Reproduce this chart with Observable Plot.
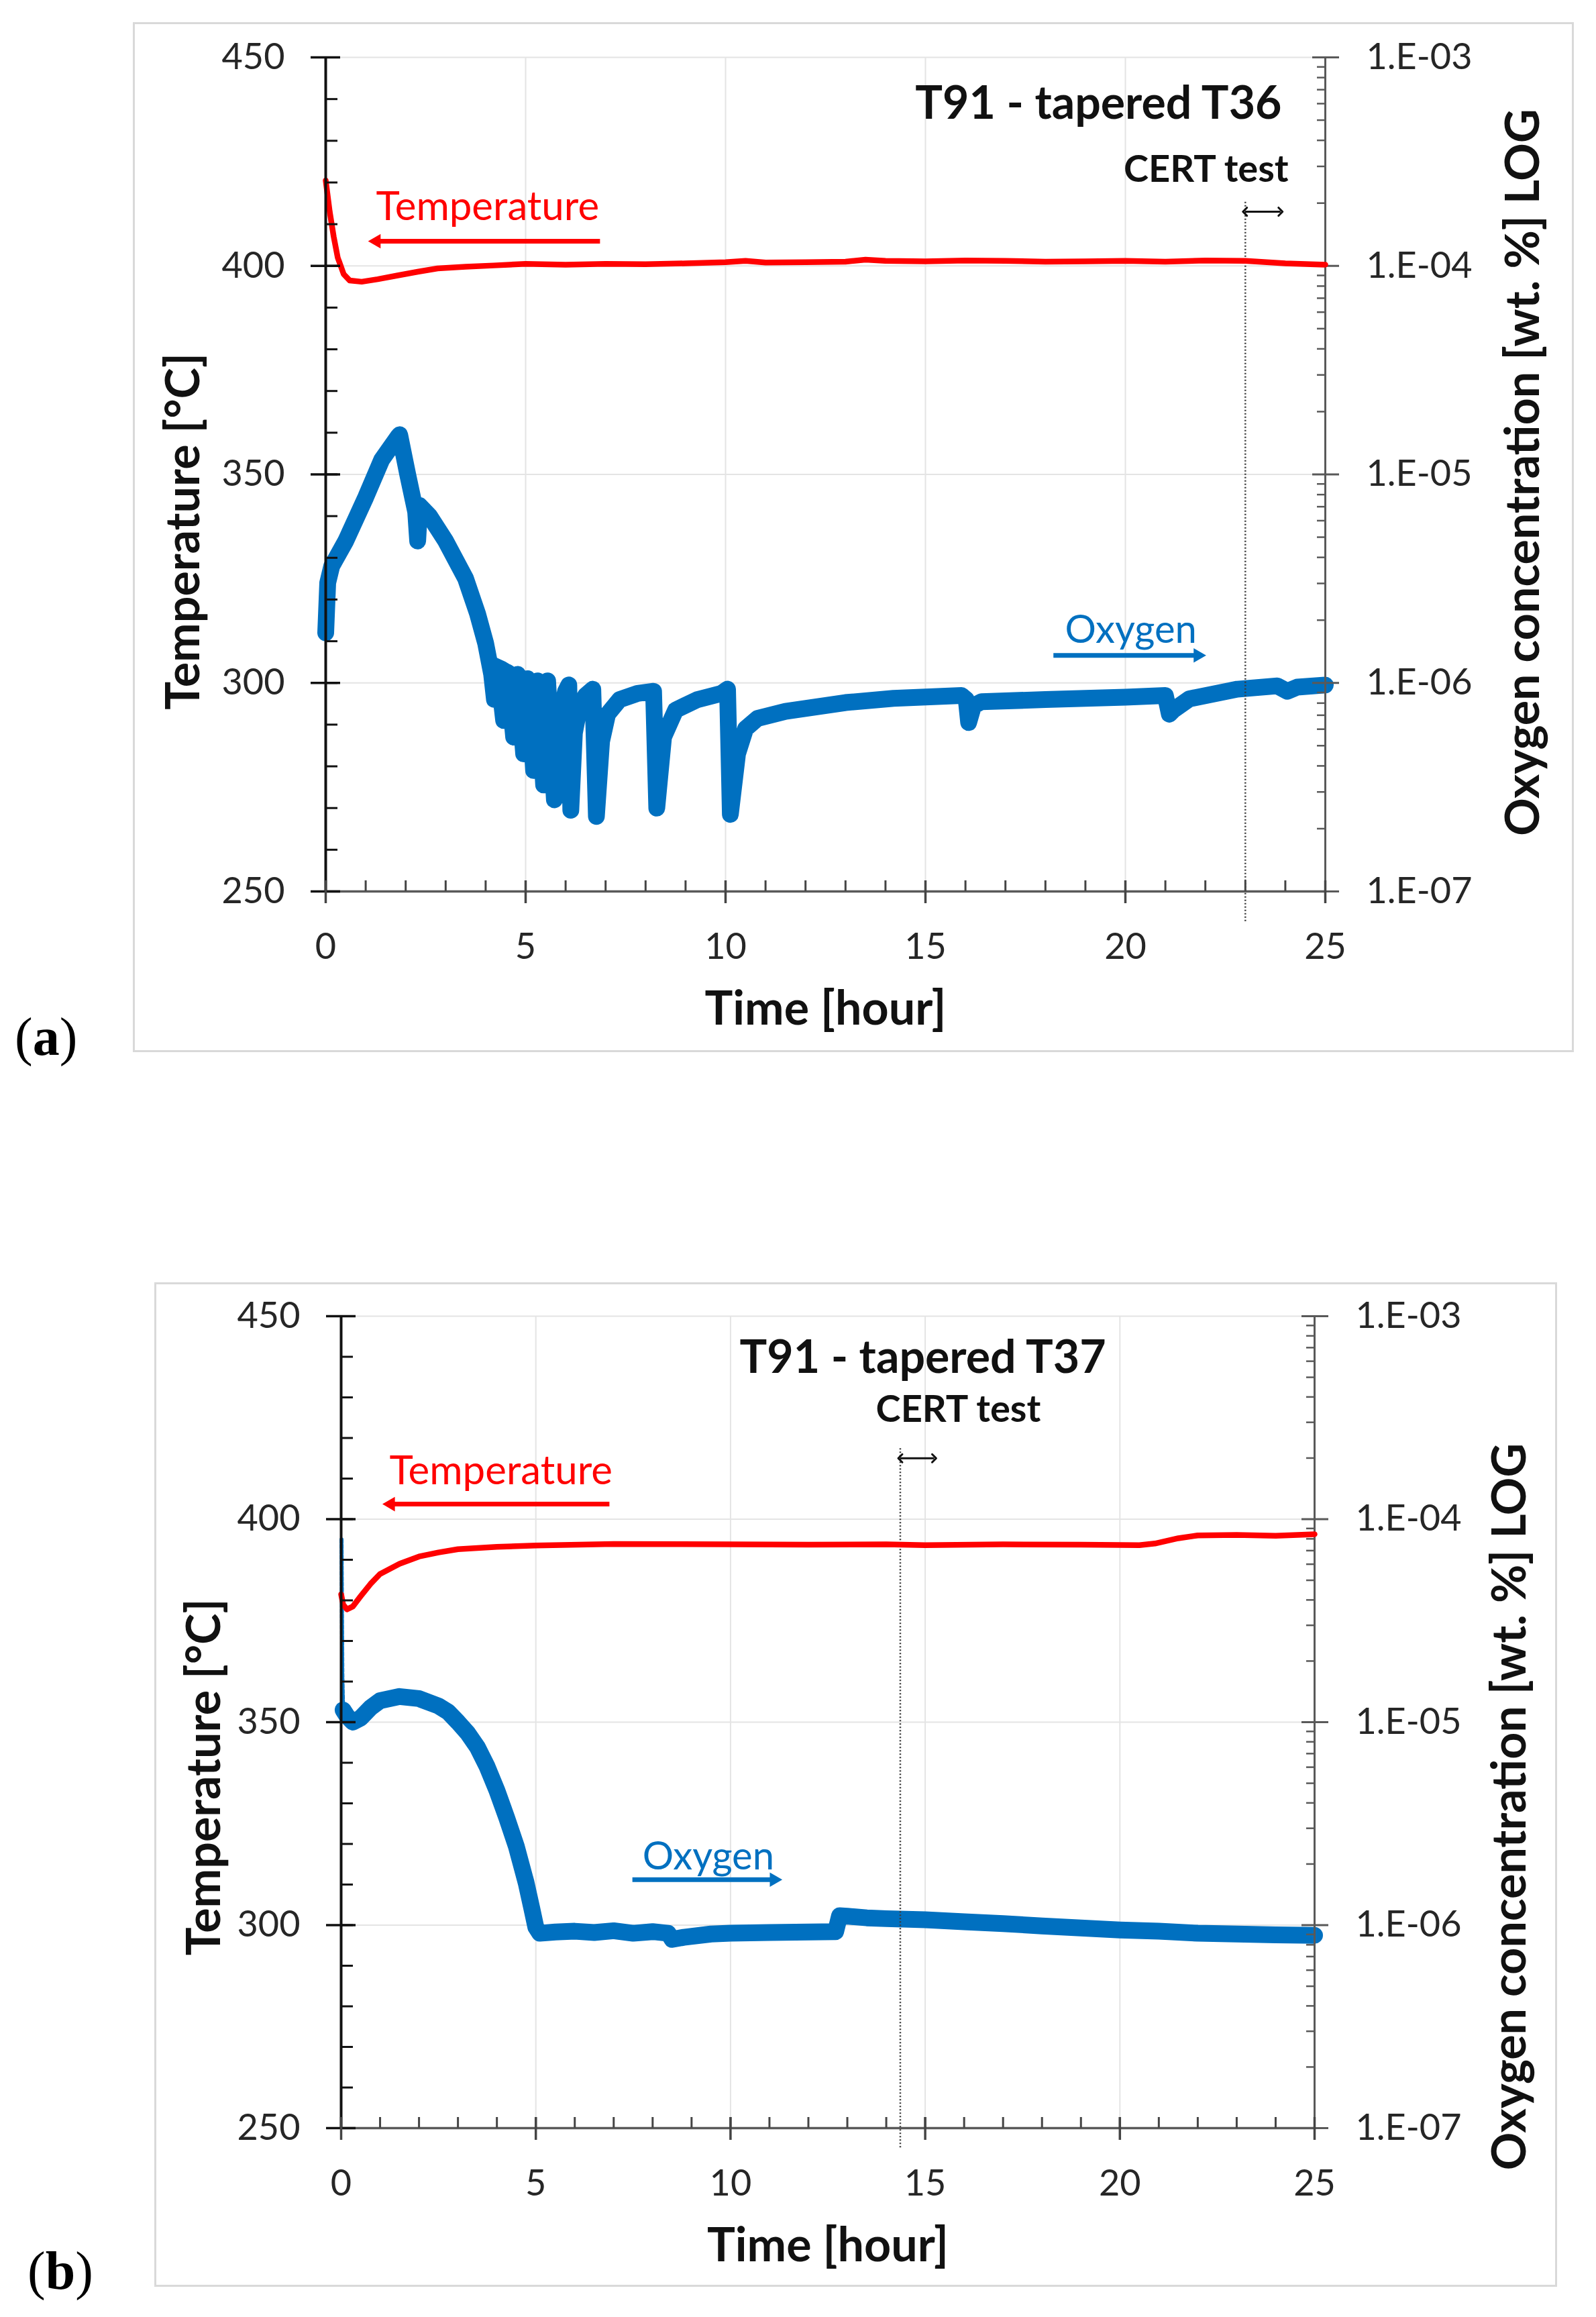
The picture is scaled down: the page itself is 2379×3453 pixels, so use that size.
<!DOCTYPE html>
<html>
<head>
<meta charset="utf-8">
<script src="https://cdn.jsdelivr.net/npm/d3@7"></script>
<script src="https://cdn.jsdelivr.net/npm/@observablehq/plot@0.6"></script>
<style>
  body { margin: 0; background: #fff; width: 2379px; height: 3453px; position: relative; overflow: hidden; }
  .panel { position: absolute; left: 0; width: 2379px; height: 1600px; }
  .panel svg { position: absolute; left: 0; top: 0; }
  .frame { position: absolute; border: 3px solid #d9d9d9; box-sizing: border-box; }
  .tag { position: absolute; font-family: "Liberation Serif", serif; font-size: 80px; line-height: 80px; color: #000; }
  .tag b { font-weight: bold; }
</style>
</head>
<body>
<div id="panelA" class="panel" style="top:0px"></div>
<div id="panelB" class="panel" style="top:1850px"></div>
<script>
// axes
const timeTicks = [0, 5, 10, 15, 20, 25];
const timeMinorTicks = d3.range(0, 26);
const timeGrid = [5, 10, 15, 20];
const tempTicks = [250, 300, 350, 400, 450];
const tempMinorTicks = d3.range(250, 451, 10);
const oxyTicks = [1e-7, 1e-6, 1e-5, 1e-4, 1e-3];
const oxyTickLabels = ["1.E-07", "1.E-06", "1.E-05", "1.E-04", "1.E-03"];
const oxyMinorTicks = oxyTicks.slice(0, -1).flatMap(p => d3.range(2, 10).map(k => k * p));

// (a) T36
const timeTempA = [0, 0.1, 0.2, 0.3, 0.45, 0.6, 0.9, 1.3, 1.8, 2.3, 2.8, 3.5, 4.2, 5, 6, 7, 8, 9, 10, 10.5, 11, 12, 13, 13.5, 14, 15, 16, 17, 18, 19, 20, 21, 22, 23, 24, 25];
const tempA = [420.5, 413, 407, 402, 398, 396.5, 396.2, 396.8, 397.7, 398.6, 399.4, 399.8, 400.1, 400.5, 400.3, 400.5, 400.4, 400.6, 400.9, 401.2, 400.8, 400.9, 401, 401.5, 401.2, 401.1, 401.3, 401.2, 401, 401.1, 401.2, 401, 401.3, 401.2, 400.6, 400.3];
const timeOxyA = [0, 0.05, 0.15, 0.5, 1.0, 1.4, 1.8, 1.85, 2.05, 2.25, 2.3, 2.35, 2.6, 3.0, 3.5, 3.8, 4.0, 4.15, 4.22, 4.3, 4.45, 4.55, 4.7, 4.8, 4.95, 5.05, 5.2, 5.3, 5.45, 5.55, 5.72, 5.85, 6.0, 6.08, 6.13, 6.22, 6.35, 6.5, 6.68, 6.77, 6.9, 7.05, 7.35, 7.8, 8.2, 8.28, 8.45, 8.75, 9.3, 9.9, 10.05, 10.12, 10.3, 10.5, 10.8, 11.5, 12.25, 13, 14.2, 15.9, 16.02, 16.08, 16.2, 16.4, 18, 20, 21.0, 21.1, 21.2, 21.6, 22.8, 23.8, 24.05, 24.3, 25];
const oxyA = [1.74e-6, 3.02e-6, 3.63e-6, 4.79e-6, 7.76e-6, 1.175e-5, 1.51e-5, 1.55e-5, 1.0e-5, 6.61e-6, 4.79e-6, 7.08e-6, 6.31e-6, 4.79e-6, 3.16e-6, 2.14e-6, 1.55e-6, 1.10e-6, 8.32e-7, 1.175e-6, 6.61e-7, 1.122e-6, 5.5e-7, 1.10e-6, 4.57e-7, 1.047e-6, 3.8e-7, 1.023e-6, 3.24e-7, 1.023e-6, 2.75e-7, 6.92e-7, 9.12e-7, 9.77e-7, 2.45e-7, 5.75e-7, 7.76e-7, 8.71e-7, 9.33e-7, 2.29e-7, 5.25e-7, 7.08e-7, 8.32e-7, 8.91e-7, 9.12e-7, 2.51e-7, 5.5e-7, 7.41e-7, 8.32e-7, 8.91e-7, 9.33e-7, 2.34e-7, 4.57e-7, 6.03e-7, 6.76e-7, 7.31e-7, 7.66e-7, 8.05e-7, 8.43e-7, 8.71e-7, 8.32e-7, 6.46e-7, 7.76e-7, 8.13e-7, 8.32e-7, 8.55e-7, 8.71e-7, 7.08e-7, 7.41e-7, 8.39e-7, 9.33e-7, 9.68e-7, 9.12e-7, 9.55e-7, 9.77e-7];
// dense oscillating block after 4 h: upper and lower envelope
const timeMassA = [4.1, 4.28, 4.5, 4.75, 4.95, 5.15];
const oxyMassLowA = [1.047e-6, 8.3e-7, 6.31e-7, 5.2e-7, 4.43e-7, 3.84e-7];
const oxyMassHighA = [1.202e-6, 1.318e-6, 1.26e-6, 1.18e-6, 1.132e-6, 1.07e-6];

// (b) T37
const timeTempB = [0, 0.05, 0.15, 0.3, 0.5, 0.75, 1.0, 1.5, 2.0, 2.5, 3.0, 4.0, 5.0, 7, 10, 12, 14, 15, 17, 19, 20.5, 20.9, 21.5, 22, 23, 24, 25];
const tempB = [381.5, 379, 377.8, 378.5, 381, 384, 386.5, 389, 390.8, 391.8, 392.6, 393.2, 393.5, 393.9, 393.8, 393.7, 393.8, 393.6, 393.8, 393.7, 393.6, 394, 395.3, 396, 396.1, 395.9, 396.3];
const timeOxyB = [0.05, 0.15, 0.3, 0.5, 0.75, 1.0, 1.5, 2.0, 2.5, 2.75, 3.0, 3.25, 3.5, 3.75, 4.0, 4.25, 4.5, 4.75, 4.9, 5.0, 5.1, 5.5, 6, 6.5, 7, 7.5, 8, 8.4, 8.5, 8.8, 9.5, 10, 11, 12, 12.7, 12.8, 13, 13.5, 14, 15, 16, 17, 18, 19, 20, 21, 22, 23, 24, 25];
const oxyB = [1.148e-5, 1.072e-5, 1.0e-5, 1.047e-5, 1.175e-5, 1.276e-5, 1.337e-5, 1.306e-5, 1.202e-5, 1.122e-5, 1.0e-5, 8.83e-6, 7.52e-6, 6.03e-6, 4.61e-6, 3.39e-6, 2.44e-6, 1.62e-6, 1.20e-6, 9.77e-7, 9.12e-7, 9.25e-7, 9.33e-7, 9.20e-7, 9.38e-7, 9.12e-7, 9.29e-7, 9.12e-7, 8.51e-7, 8.71e-7, 9.04e-7, 9.12e-7, 9.20e-7, 9.25e-7, 9.29e-7, 1.112e-6, 1.107e-6, 1.086e-6, 1.076e-6, 1.062e-6, 1.038e-6, 1.018e-6, 9.91e-7, 9.68e-7, 9.46e-7, 9.33e-7, 9.12e-7, 9.04e-7, 8.95e-7, 8.91e-7];
const timeSpikeB = [0.01, 0.03, 0.05];
const oxySpikeB = [7.94e-5, 1.74e-5, 1.148e-5];

const RED = "#ff0000";
const BLUE = "#0070c0";
const INK = "#262626";
const FONT = "Lato, 'Open Sans', sans-serif";
const W = 2379, H = 1600;

const panels = [
  {
    id: "panelA", tag: "a", tagPos: [22, 1505],
    frame: {left: 198, top: 33, width: 2148, height: 1535},
    margin: {top: 85, right: 404, bottom: 272, left: 485},
    tempT: timeTempA, temp: tempA, oxyT: timeOxyA, oxy: oxyA, spikeT: [], spike: [],
    massT: timeMassA, massLow: oxyMassLowA, massHigh: oxyMassHighA,
    leftTitle: {dx: -211, dy: 85}, rightTitle: {dx: 296, dy: -3},
    title: {x: 23.91, y: 438.7, text: "T91 - tapered T36", anchor: "end"},
    cert: {x: 24.08, y: 423.1, anchor: "end"},
    certArrow: {x1: 22.99, x2: 23.88, y: 413},
    certLine: {x: 23, y1: 415.3, y2: 242.8},
    tempLabel: {x: 1.26, y: 414.1}, tempArrow: {tail: 6.86, tip: 1.06, y: 405.9},
    oxyLabel: {x: 18.49, y: 312.6}, oxyArrow: {tail: 18.2, tip: 22.02, y: 306.6}
  },
  {
    id: "panelB", tag: "b", tagPos: [41, 1494],
    frame: {left: 230, top: 61, width: 2091, height: 1497},
    margin: {top: 111, right: 420, bottom: 279, left: 508},
    tempT: timeTempB, temp: tempB, oxyT: timeOxyB, oxy: oxyB, spikeT: timeSpikeB, spike: oxySpikeB,
    massT: [], massLow: [], massHigh: [],
    leftTitle: {dx: -203, dy: 82}, rightTitle: {dx: 292, dy: 126},
    title: {x: 14.94, y: 439.6, text: "T91 - tapered T37", anchor: "middle"},
    cert: {x: 15.85, y: 427, anchor: "middle"},
    certArrow: {x1: 14.36, x2: 15.23, y: 415},
    certLine: {x: 14.36, y1: 417.4, y2: 245},
    tempLabel: {x: 1.24, y: 411.8}, tempArrow: {tail: 6.89, tip: 1.06, y: 403.7},
    oxyLabel: {x: 7.74, y: 316.8}, oxyArrow: {tail: 7.48, tip: 11.33, y: 311.2}
  }
];

function arrowMarks(a, color, pxPerHour) {
  const dir = Math.sign(a.tip - a.tail);
  const d = [{tail: a.tail, end: a.tip - dir * 12 / pxPerHour, tip: a.tip, y: a.y}];
  return [
    Plot.link(d, {x1: "tail", x2: "end", y1: "y", y2: "y", stroke: color, strokeWidth: 7}),
    Plot.dot(d, {x: "tip", y: "y", symbol: "triangle", r: 8, rotate: dir > 0 ? 90 : -90,
      fill: color, stroke: "none", dx: -dir * 12.4})
  ];
}

function drawPanel(p) {
  const el = document.getElementById(p.id);
  const m = p.margin;
  const pxPerHour = (W - m.left - m.right) / 25;

  const frame = document.createElement("div");
  frame.className = "frame";
  Object.assign(frame.style, {left: p.frame.left + "px", top: p.frame.top + "px",
    width: p.frame.width + "px", height: p.frame.height + "px"});
  el.appendChild(frame);

  const tag = document.createElement("div");
  tag.className = "tag";
  tag.innerHTML = "(<b>" + p.tag + "</b>)";
  tag.style.left = p.tagPos[0] + "px";
  tag.style.top = p.tagPos[1] + "px";
  el.appendChild(tag);

  const base = {
    width: W, height: H,
    marginTop: m.top, marginRight: m.right, marginBottom: m.bottom, marginLeft: m.left,
    style: {background: "transparent", fontFamily: FONT, fontSize: "54px", color: INK, overflow: "visible"}
  };

  const oxyData = p.oxyT.map((t, i) => ({t, v: p.oxy[i]}));
  const spikeData = p.spikeT.map((t, i) => ({t, v: p.spike[i]}));
  const massData = p.massT.map((t, i) => ({t, lo: p.massLow[i], hi: p.massHigh[i]}));

  // oxygen, log scale on the right
  const oxyPlot = Plot.plot({
    ...base,
    x: {domain: [0, 25], axis: null},
    y: {type: "log", domain: [1e-7, 1e-3], label: null},
    marks: [
      Plot.gridX(timeGrid, {stroke: "#e4e4e4", strokeOpacity: 1, strokeWidth: 2}),
      Plot.gridY(oxyTicks.slice(1), {stroke: "#e4e4e4", strokeOpacity: 1, strokeWidth: 2}),
      Plot.line(spikeData, {x: "t", y: "v", stroke: BLUE, strokeWidth: 6, strokeDasharray: "5 3"}),
      Plot.areaY(massData, {x: "t", y1: "lo", y2: "hi", fill: BLUE, curve: "linear"}),
      Plot.line(oxyData, {x: "t", y: "v", stroke: BLUE, strokeWidth: 25, strokeLinejoin: "round"}),
      Plot.ruleX([25], {stroke: "#595959", strokeWidth: 3}),
      Plot.axisY(oxyTicks, {anchor: "right", label: null, tickSize: 0, tickPadding: 61, fontSize: 54, fill: INK,
        tickFormat: d => oxyTickLabels[oxyTicks.indexOf(d)]}),
      Plot.axisY(oxyTicks, {anchor: "right", label: null, tickSize: 40, dx: -20, stroke: "#595959", strokeWidth: 3, tickFormat: () => ""}),
      Plot.axisY(oxyMinorTicks, {anchor: "right", label: null, tickSize: 13, dx: -13, stroke: "#595959", strokeWidth: 2.5, tickFormat: () => ""})
    ]
  });

  const tempData = p.tempT.map((t, i) => ({t, v: p.temp[i]}));

  // temperature, linear scale on the left, plus annotations
  const tempPlot = Plot.plot({
    ...base,
    x: {domain: [0, 25], label: null},
    y: {domain: [250, 450], label: null},
    marks: [
      Plot.ruleX([p.certLine], {x: "x", y1: "y1", y2: "y2", stroke: "#3a3a3a", strokeWidth: 2.5, strokeDasharray: "2 3"}),
      Plot.line(tempData, {x: "t", y: "v", stroke: RED, strokeWidth: 8.5}),
      Plot.ruleY([250], {stroke: "#595959", strokeWidth: 3.5}),
      Plot.ruleX([0], {stroke: "#111", strokeWidth: 4}),
      Plot.axisY(tempTicks, {anchor: "left", label: null, tickSize: 0, tickPadding: 61, fontSize: 54, fill: INK}),
      Plot.axisY(tempTicks, {anchor: "left", label: null, tickSize: 44, dx: 22, stroke: "#111", strokeWidth: 3.5, tickFormat: () => ""}),
      Plot.axisY(tempMinorTicks, {anchor: "left", label: null, tickSize: 18, dx: 18, stroke: "#111", strokeWidth: 3, tickFormat: () => ""}),
      Plot.axisX(timeTicks, {anchor: "bottom", label: null, tickSize: 0, tickPadding: 62, fontSize: 54, fill: INK}),
      Plot.axisX(timeTicks, {anchor: "bottom", label: null, tickSize: 34, dy: -16, stroke: "#444", strokeWidth: 3.5, tickFormat: () => ""}),
      Plot.axisX(timeMinorTicks, {anchor: "bottom", label: null, tickSize: 16, dy: -16, stroke: "#444", strokeWidth: 3, tickFormat: () => ""}),
      Plot.text(["Temperature [°C]"], {frameAnchor: "left", dx: p.leftTitle.dx, dy: p.leftTitle.dy, rotate: -90,
        textAnchor: "middle", lineAnchor: "middle", fontWeight: "bold", fontSize: 70, fill: "#111"}),
      Plot.text(["Oxygen concentration [wt. %] LOG"], {frameAnchor: "right", dx: p.rightTitle.dx, dy: p.rightTitle.dy, rotate: -90,
        textAnchor: "middle", lineAnchor: "middle", fontWeight: "bold", fontSize: 70, fill: "#111"}),
      Plot.text(["Time [hour]"], {frameAnchor: "bottom", dy: 176, textAnchor: "middle", lineAnchor: "middle",
        fontWeight: "bold", fontSize: 70, fill: "#111"}),
      Plot.text([p.title], {x: "x", y: "y", text: "text", textAnchor: p.title.anchor, fontWeight: "bold", fontSize: 68, fill: "#111"}),
      Plot.text([p.cert], {x: "x", y: "y", text: () => "CERT test", textAnchor: p.cert.anchor, fontWeight: "bold", fontSize: 56, fill: "#111"}),
      Plot.link([p.certArrow], {x1: "x1", x2: "x2", y1: "y", y2: "y", stroke: "#111", strokeWidth: 3,
        markerStart: "arrow-reverse", markerEnd: "arrow"}),
      Plot.text([p.tempLabel], {x: "x", y: "y", text: () => "Temperature", textAnchor: "start", fontSize: 60, fill: RED}),
      ...arrowMarks(p.tempArrow, RED, pxPerHour),
      Plot.text([p.oxyLabel], {x: "x", y: "y", text: () => "Oxygen", textAnchor: "start", fontSize: 58, fill: BLUE}),
      ...arrowMarks(p.oxyArrow, BLUE, pxPerHour)
    ]
  });

  el.appendChild(oxyPlot);
  el.appendChild(tempPlot);
}

panels.forEach(drawPanel);
</script>
</body>
</html>
